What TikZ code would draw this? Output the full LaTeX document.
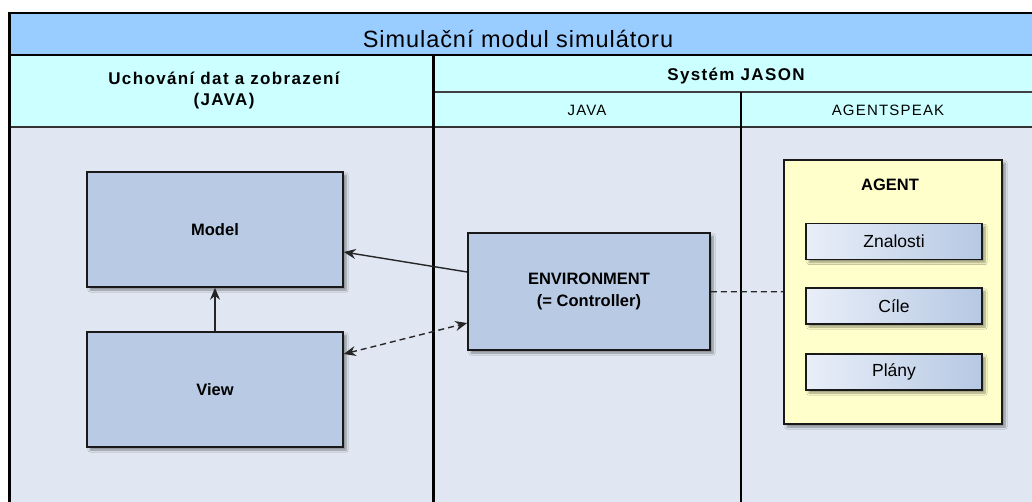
\documentclass[tikz,border=0pt]{standalone}
\usepackage{fontspec}
\setmainfont{Liberation Sans}
\newfontfamily\spacedsans{Liberation Sans}[LetterSpace=8]
\newfontfamily\titlesans{Liberation Sans}[LetterSpace=4]
\usetikzlibrary{arrows.meta,shadows.blur}
\definecolor{titleblue}{RGB}{153,204,255}
\definecolor{headcyan}{RGB}{204,255,255}
\definecolor{bodygray}{RGB}{224,231,242}
\definecolor{boxblue}{RGB}{185,203,228}
\definecolor{agentyellow}{RGB}{255,255,204}
\definecolor{slotlight}{RGB}{233,239,249}
\definecolor{slotdark}{RGB}{182,200,227}
\tikzset{
 softshadow/.style={blur shadow={shadow xshift=3pt,shadow yshift=-3pt,shadow opacity=40,shadow blur steps=6}},
 headtxt/.style={font=\spacedsans\fontsize{17}{21}\selectfont\bfseries},
 subtxt/.style={font=\spacedsans\fontsize{15}{18}\selectfont},
 mvcbox/.style={draw=black!90,line width=1.6pt,fill=boxblue,minimum width=256pt,minimum height=115pt,
  align=center,font=\fontsize{16.5}{22}\selectfont\bfseries,softshadow},
 agentbox/.style={draw=black!90,line width=1.6pt,fill=agentyellow,minimum width=218pt,minimum height=264pt,softshadow},
 slot/.style={draw=black!90,line width=1.4pt,left color=slotlight,right color=slotdark,
  minimum width=176pt,minimum height=36pt,font=\fontsize{17.5}{20}\selectfont,softshadow},
 flow/.style={line width=1.4pt,draw=black!85,->}
}
\newcommand{\slotbox}[3]{%
 \node[slot] ({#1}) at ({#2}) {#3};%
}

\begin{document}
\begin{tikzpicture}[x=1pt,y=-1pt,>={Stealth[length=12pt,width=10pt,inset=4pt]}]
 \useasboundingbox (0,0) rectangle (1032,501);
 \clip (0,0) rectangle (1032,501);
 \fill[white] (0,0) rectangle (1032,501);
 % swimlane table
 \fill[titleblue] (9,13) rectangle (1045,55);
 \fill[headcyan] (9,55) rectangle (1045,127);
 \fill[bodygray] (9,127) rectangle (1045,510);
 \draw[line width=1.5pt,black!75] (433,92) -- (1045,92);
 \draw[line width=2pt,black!80] (9,127) -- (1045,127);
 \draw[line width=2pt] (9,55) -- (1045,55);
 \draw[line width=2pt] (9,13) -- (1045,13);
 \draw[line width=3pt] (9,12) -- (9,510);
 \draw[line width=3pt] (433,55) -- (433,510);
 \draw[line width=2.5pt] (741,92) -- (741,510);
 \node[anchor=base,font=\titlesans\fontsize{23.5}{26}\selectfont] (title) at (518,47) {Simulační modul simulátoru};
 \node[headtxt,align=center] (leftcol) at (224,91) {Uchování dat a zobrazení\\(JAVA)};
 \node[headtxt,anchor=base] (jason) at (736,80) {Systém JASON};
 \node[subtxt,anchor=base] (javacol) at (587,115.5) {JAVA};
 \node[subtxt,anchor=base] (ascol) at (888,115.5) {AGENTSPEAK};
 % MVC
 \node[mvcbox] (model) at (215,229.5) {Model};
 \node[mvcbox] (view) at (215,389.5) {View};
 \node[mvcbox,minimum width=242pt,minimum height=117pt] (env) at (589,291.5) {ENVIRONMENT\\(= Controller)};
 % agent
 \node[agentbox] (agent) at (893,292) {};
 \node[font=\fontsize{16.5}{20}\selectfont\bfseries] (agenttitle) at (890,185) {AGENT};
 \slotbox{know}{894,241.5}{Znalosti}
 \slotbox{goals}{894,306}{Cíle}
 \slotbox{plans}{894,372}{Plány}
 \draw[flow] (view) -- (model);
 \draw[flow] ([yshift=19.5pt]env.west) -- ([yshift=-22.5pt]model.east);
 \draw[flow,<->,dash pattern=on 6pt off 4pt] ([yshift=35.5pt]view.east) -- ([yshift=-31.5pt]env.west);
 \draw[line width=1.3pt,black!85,dash pattern=on 6pt off 4pt] (env) -- (agent);
\end{tikzpicture}
\end{document}
